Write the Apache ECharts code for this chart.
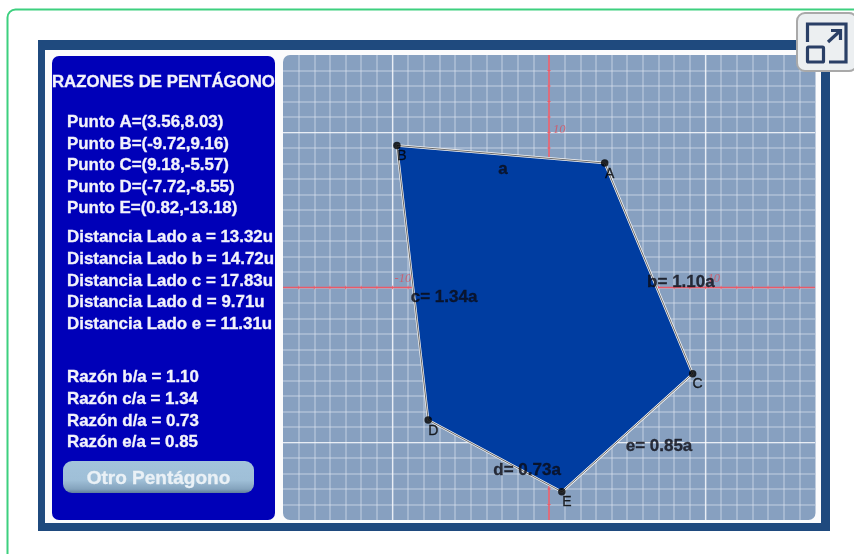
<!DOCTYPE html>
<html><head><meta charset="utf-8">
<style>html,body{margin:0;padding:0;background:#fff}#c{width:854px;height:554px}</style>
<script src="https://cdn.jsdelivr.net/npm/echarts@6/dist/echarts.min.js"></script>
</head><body><div id="c"></div>
<script>
const vertexNames = ['A','B','D','E','C'];
const vertexX = [3.56,-9.72,-7.72,0.82,9.18];
const vertexY = [8.03,9.16,-8.55,-13.18,-5.57];
const edgeLabels = ['a','b= 1.10a','c= 1.34a','d= 0.73a','e= 0.85a'];
const edgeLabelX = [-2.94,8.43,-6.71,-1.4,7.03];
const edgeLabelY = [7.65,0.35,-0.66,-11.8,-10.22];
const majorTicks = [-10,10];
const ticksX = [-16,-15,-14,-13,-12,-11,-10,-9,-8,-7,-6,-5,-4,-3,-2,-1,1,2,3,4,5,6,7,8,9,10,11,12,13,14,15,16];
const ticksY = [-14,-13,-12,-11,-10,-9,-8,-7,-6,-5,-4,-3,-2,-1,1,2,3,4,5,6,7,8,9,10,11,12,13,14];
const title = 'RAZONES DE PENTÁGONO';
const puntos = ['Punto A=(3.56,8.03)','Punto B=(-9.72,9.16)','Punto C=(9.18,-5.57)','Punto D=(-7.72,-8.55)','Punto E=(0.82,-13.18)'];
const distancias = ['Distancia Lado a = 13.32u','Distancia Lado b = 14.72u','Distancia Lado c = 17.83u','Distancia Lado d = 9.71u','Distancia Lado e = 11.31u'];
const razones = ['Razón b/a = 1.10','Razón c/a = 1.34','Razón d/a = 0.73','Razón e/a = 0.85'];
const buttonText = 'Otro Pentágono';

const font = '"Liberation Sans", Arial, sans-serif';
const txt = (s,x,y,size) => ({type:'text',z:5,x,y,style:{text:s,fill:'#f2f2fb',stroke:'#e8e8f8',lineWidth:0.35,font:'bold '+size+'px '+font,textVerticalAlign:'middle',textBaseline:'middle'}});
const col = (list,y0,step) => list.map((s,i)=>txt(s,67,y0+i*step,16.9));
const gridLine = 'rgba(226,233,243,0.45)';
const red = '#ea5a68';
const axisCommon = {type:'value',interval:1,
  axisLine:{show:false},axisTick:{show:false},axisLabel:{show:false},
  splitLine:{show:true,showMinLine:false,showMaxLine:false,lineStyle:{color:gridLine,width:1.5}}};

const pts = vertexX.map((x,i)=>[x,vertexY[i]]);
const closed = pts.concat([pts[0]]);
const axisLabelStyle = {show:true,position:'right',color:'#d9505e',fontFamily:'"Liberation Serif",serif',fontStyle:'italic',fontSize:12.5};
const chart = echarts.init(document.getElementById('c'),null,{renderer:'canvas'});
chart.setOption({
  animation:false,
  grid:{left:283,top:55,width:532,height:465,show:false},
  xAxis:Object.assign({},axisCommon,{min:-17,max:17}),
  yAxis:Object.assign({},axisCommon,{min:-15,max:15}),
  graphic:[
    {type:'rect',z:-30,shape:{x:7.5,y:9.5,width:880,height:600,r:8},style:{fill:'#fff',stroke:'#3dd07f',lineWidth:2}},
    {type:'rect',z:-29,shape:{x:38,y:40,width:792,height:491},style:{fill:'#1f4a7e'}},
    {type:'rect',z:-28,shape:{x:45,y:50,width:776,height:473},style:{fill:'#fbfbfc'}},
    {type:'rect',z:-27,shape:{x:52,y:56,width:223,height:464,r:7},style:{fill:'#0000b8'}},
    {type:'rect',z:-27,shape:{x:283,y:55,width:532.5,height:465,r:7},style:{fill:'#87a0c0'}},
    txt(title,52,82,16.8),
    ...col(puntos,122.5,21.5),
    ...col(distancias,237.7,21.65),
    ...col(razones,377.5,21.7),
    {type:'rect',z:4,shape:{x:63,y:461,width:191,height:32,r:9},
      style:{fill:new echarts.graphic.LinearGradient(0,0,0,1,[{offset:0,color:'#a3c3db'},{offset:0.6,color:'#9fbfd7'},{offset:0.88,color:'#84a3bd'},{offset:1,color:'#5f7d9c'}])}},
    {type:'text',z:5,x:158.5,y:479,style:{text:buttonText,fill:'#eaf1f6',stroke:'#e4ecf2',lineWidth:0.35,font:'bold 19px '+font,textAlign:'center',textVerticalAlign:'middle',textBaseline:'middle'}},
    {type:'rect',z:20,shape:{x:797,y:13,width:60,height:58,r:8},style:{fill:'#eceff1',stroke:'#a9a9a9',lineWidth:2}},
    {type:'polyline',z:21,shape:{points:[[807.5,42],[807.5,24],[846,24],[846,62],[829,62]]},style:{fill:null,stroke:'#2a3f66',lineWidth:3.2}},
    {type:'rect',z:21,shape:{x:807.5,y:47,width:16,height:15,r:1},style:{fill:'none',stroke:'#2a3f66',lineWidth:3.2}},
    {type:'polyline',z:21,shape:{points:[[828,42],[840,31]]},style:{fill:null,stroke:'#2a3f66',lineWidth:3.2}},
    {type:'polyline',z:21,shape:{points:[[831,30.5],[840.5,30.5],[840.5,40]]},style:{fill:null,stroke:'#2a3f66',lineWidth:3.2}}
  ],
  series:[
    {type:'line',z:1,data:[],silent:true,
      markLine:{silent:true,symbol:'none',label:{show:false},animation:false,z:1,
        lineStyle:{color:'rgba(255,255,255,0.75)',width:1.2,type:'solid'},
        data:majorTicks.map(v=>({xAxis:v})).concat(majorTicks.map(v=>({yAxis:v})))}},
    {type:'line',z:2,silent:true,symbol:'none',data:[[-17,0],[17,0]],lineStyle:{color:red,width:1.6}},
    {type:'line',z:2,silent:true,symbol:'none',data:[[0,-15],[0,15]],lineStyle:{color:red,width:1.6}},
    {type:'scatter',z:2,silent:true,symbol:'rect',symbolSize:[1,3.5],itemStyle:{color:red},data:ticksX.map(v=>[v,0])},
    {type:'scatter',z:2,silent:true,symbol:'rect',symbolSize:[3.5,1],itemStyle:{color:red},data:ticksY.map(v=>[0,v])},
    {type:'scatter',z:2,silent:true,symbolSize:0,data:majorTicks.map(v=>[v,0]),
      label:Object.assign({},axisLabelStyle,{distance:2,offset:[0,-9],formatter:p=>String(p.value[0])})},
    {type:'scatter',z:2,silent:true,symbolSize:0,data:[[0,10]],
      label:Object.assign({},axisLabelStyle,{distance:4,offset:[0,-3],formatter:p=>String(p.value[1])})},
    {type:'custom',z:3,silent:true,coordinateSystem:'cartesian2d',data:pts,
      renderItem:(p,api)=>p.dataIndex===0?{type:'polygon',shape:{points:pts.map(q=>api.coord(q))},style:{fill:'#003da1'}}:null,
      encode:{x:0,y:1}},
    {type:'line',z:4,silent:true,data:closed,symbol:'none',lineStyle:{color:'#f4f4f4',width:2.4}},
    {type:'line',z:5,silent:true,data:closed,symbol:'none',lineStyle:{color:'#6b6b6b',width:1}},
    {type:'scatter',z:6,silent:true,data:pts,symbolSize:7.5,itemStyle:{color:'#000'},
      label:{show:true,position:'bottom',distance:1,offset:[5,-1],color:'#000',textBorderColor:'#000',textBorderWidth:0.3,fontFamily:font,fontSize:14,
        formatter:p=>vertexNames[p.dataIndex]}},
    {type:'scatter',z:7,silent:true,data:edgeLabelX.map((x,i)=>[x,edgeLabelY[i]]),symbolSize:0,
      label:{show:true,position:'inside',color:'#0b0b14',textBorderColor:'#0b0b14',textBorderWidth:0.3,fontFamily:font,fontWeight:'bold',fontSize:17,
        formatter:p=>edgeLabels[p.dataIndex]}}
  ]
});
</script></body></html>
